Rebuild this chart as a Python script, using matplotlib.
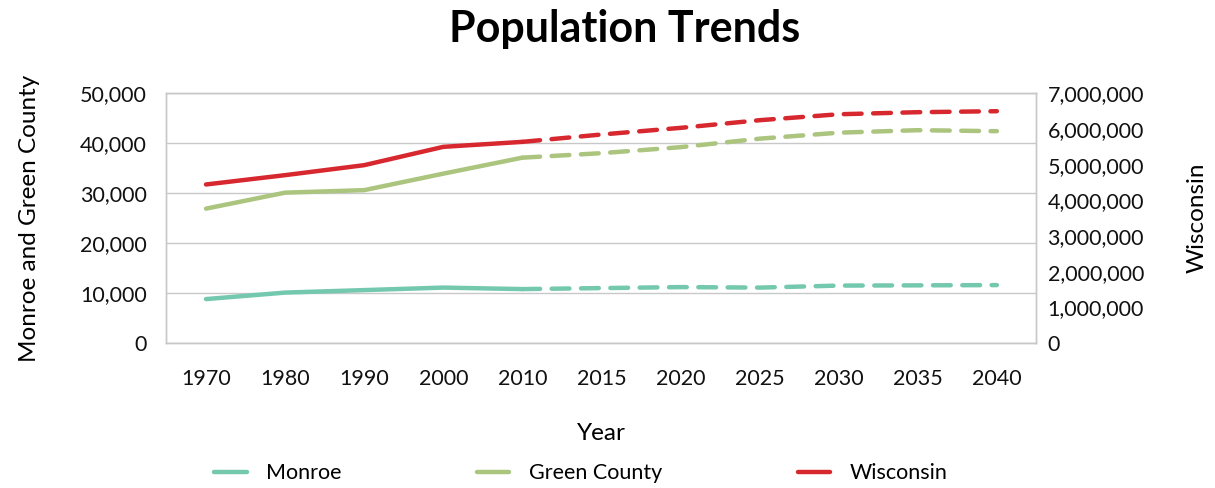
import numpy as np
import matplotlib.pyplot as plt
from matplotlib.lines import Line2D
from matplotlib.ticker import FuncFormatter

plt.rcParams['font.family'] = ['Lato', 'DejaVu Sans']

years = ['1970', '1980', '1990', '2000', '2010', '2015', '2020', '2025', '2030', '2035', '2040']
monroe = [8800, 10100, 10600, 11100, 10800, 11000, 11200, 11100, 11500, 11550, 11600]
green = [26900, 30100, 30600, 33900, 37100, 38000, 39200, 40900, 42100, 42600, 42400]
wisconsin = [4443000, 4704000, 4984000, 5497000, 5637000, 5843000, 6029000, 6244000,
             6410000, 6468000, 6496000]
split = 4  # index of 2010, last actual census value

c_monroe = '#74c8ae'
c_green = '#abc47e'
c_wi = '#d6282e'
grid_c = '#c8c8c8'

fig = plt.figure(figsize=(12.15, 4.88), dpi=100)
ax = fig.add_axes([0.137, 0.297, 0.716, 0.512])
ax2 = ax.twinx()

x = np.arange(len(years))
lw = 3.2
for a, vals, c in [(ax, monroe, c_monroe), (ax, green, c_green), (ax2, wisconsin, c_wi)]:
    a.plot(x[:split + 1], vals[:split + 1], color=c, lw=lw, solid_capstyle='round')
    a.plot(x[split:], vals[split:], color=c, lw=lw, ls=(0, (4, 2.6)), dash_capstyle='round')

ax.set_xlim(-0.5, len(years) - 0.5)
ax.set_ylim(0, 50000)
ax2.set_ylim(0, 7000000)
ax.set_yticks(np.arange(0, 50001, 10000))
ax2.set_yticks(np.arange(0, 7000001, 1000000))
fmt = FuncFormatter(lambda v, p: f'{int(v):,}')
ax.yaxis.set_major_formatter(fmt)
ax2.yaxis.set_major_formatter(fmt)
ax.set_xticks(x)
ax.set_xticklabels(years)

ax.grid(axis='y', color=grid_c, lw=1)
ax.set_axisbelow(True)
for a in (ax, ax2):
    for s in a.spines.values():
        s.set_color(grid_c)
        s.set_linewidth(1)
    a.tick_params(length=0, labelsize=15.5, colors='#111111')
ax.tick_params(axis='x', pad=19)
ax.tick_params(axis='y', pad=14)
ax2.tick_params(axis='y', pad=8)

ax.set_ylabel('Monroe and Green County', fontsize=17.5, labelpad=29)
ax2.set_ylabel('Wisconsin', fontsize=17.5, labelpad=31)
ax.set_xlabel('Year', fontsize=17.5, labelpad=24)

fig.text(0.514, 0.94, 'Population Trends', fontsize=31, fontweight='bold',
         ha='center', va='center')

handles = [Line2D([], [], color=c, lw=lw, solid_capstyle='round') for c in (c_monroe, c_green, c_wi)]
fig.legend(handles, ['Monroe', 'Green County', 'Wisconsin'], loc='center',
           bbox_to_anchor=(0.478, 0.03), ncol=3, frameon=False, fontsize=15.5,
           columnspacing=6.3, handlelength=1.5, handletextpad=0.9)

fig.savefig('out.png', dpi=100)
